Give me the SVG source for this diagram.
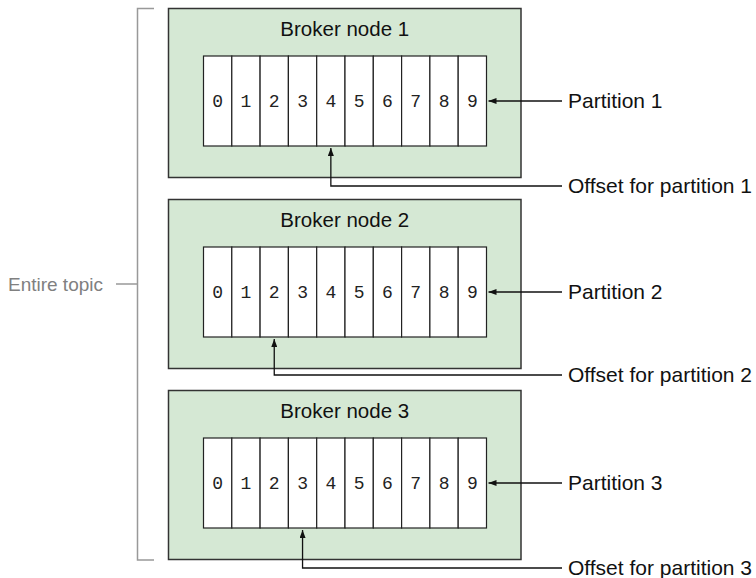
<svg xmlns="http://www.w3.org/2000/svg" width="756" height="578" viewBox="0 0 756 578">
<style>
.box{fill:#d5e8d4;stroke:#333;stroke-width:1.5}
.cell{fill:#fff;stroke:#222;stroke-width:1.2}
.title{font-family:"Liberation Sans",Arial,sans-serif;font-size:20.5px;fill:#111;text-anchor:middle}
.dig{font-family:"Liberation Mono","Courier New",monospace;font-size:18px;fill:#222;text-anchor:middle}
.lbl{font-family:"Liberation Sans",Arial,sans-serif;font-size:21px;fill:#111}
.gray{font-family:"Liberation Sans",Arial,sans-serif;font-size:19px;fill:#808080;text-anchor:end}
.conn{fill:none;stroke:#111;stroke-width:1.3}
.br{fill:none;stroke:#999;stroke-width:1.5}
</style>
<defs>
<marker id="ah" viewBox="0 0 8 6" refX="8" refY="3" markerWidth="8" markerHeight="6" markerUnits="userSpaceOnUse" orient="auto">
<path d="M0,0 L8,3 L0,6 Z" fill="#111"/>
</marker>
<g id="strip">
<rect class="cell" x="0" y="0" width="28.3" height="90"/>
<rect class="cell" x="28.3" y="0" width="28.3" height="90"/>
<rect class="cell" x="56.6" y="0" width="28.3" height="90"/>
<rect class="cell" x="84.9" y="0" width="28.3" height="90"/>
<rect class="cell" x="113.2" y="0" width="28.3" height="90"/>
<rect class="cell" x="141.5" y="0" width="28.3" height="90"/>
<rect class="cell" x="169.8" y="0" width="28.3" height="90"/>
<rect class="cell" x="198.1" y="0" width="28.3" height="90"/>
<rect class="cell" x="226.4" y="0" width="28.3" height="90"/>
<rect class="cell" x="254.7" y="0" width="28.3" height="90"/>
<text class="dig" x="14.15" y="51">0</text>
<text class="dig" x="42.45" y="51">1</text>
<text class="dig" x="70.75" y="51">2</text>
<text class="dig" x="99.05" y="51">3</text>
<text class="dig" x="127.35" y="51">4</text>
<text class="dig" x="155.65" y="51">5</text>
<text class="dig" x="183.95" y="51">6</text>
<text class="dig" x="212.25" y="51">7</text>
<text class="dig" x="240.55" y="51">8</text>
<text class="dig" x="268.85" y="51">9</text>
</g>
</defs>

<g id="topic">
<path class="br" d="M154,8.5 H137.5 V560 H154"/>
<line class="br" x1="116" y1="284" x2="137.5" y2="284"/>
<text class="gray" x="103" y="290.5">Entire topic</text>
</g>

<g id="broker1">
<rect class="box" x="168.5" y="8.5" width="352.5" height="169"/>
<text class="title" x="344.75" y="36">Broker node 1</text>
<use href="#strip" x="203.5" y="56"/>
</g>
<g id="broker2">
<rect class="box" x="168.5" y="199.5" width="352.5" height="169"/>
<text class="title" x="344.75" y="227">Broker node 2</text>
<use href="#strip" x="203.5" y="247"/>
</g>
<g id="broker3">
<rect class="box" x="168.5" y="390.5" width="352.5" height="169"/>
<text class="title" x="344.75" y="418">Broker node 3</text>
<use href="#strip" x="203.5" y="438"/>
</g>

<g id="connectors">
<line class="conn" x1="562" y1="101" x2="488.5" y2="101" marker-end="url(#ah)"/>
<polyline class="conn" points="562,186 330.85,186 330.85,148" marker-end="url(#ah)"/>
<line class="conn" x1="562" y1="292" x2="488.5" y2="292" marker-end="url(#ah)"/>
<polyline class="conn" points="562,375 274.25,375 274.25,339" marker-end="url(#ah)"/>
<line class="conn" x1="562" y1="483" x2="488.5" y2="483" marker-end="url(#ah)"/>
<polyline class="conn" points="562,568 302.55,568 302.55,530" marker-end="url(#ah)"/>
</g>

<g id="labels">
<text class="lbl" x="568" y="108">Partition 1</text>
<text class="lbl" x="568" y="193">Offset for partition 1</text>
<text class="lbl" x="568" y="299">Partition 2</text>
<text class="lbl" x="568" y="382">Offset for partition 2</text>
<text class="lbl" x="568" y="490">Partition 3</text>
<text class="lbl" x="568" y="575">Offset for partition 3</text>
</g>
</svg>
